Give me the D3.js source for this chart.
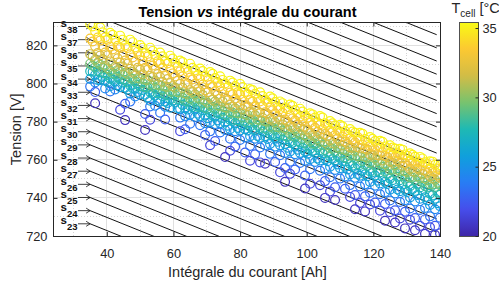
<!DOCTYPE html>
<html>
<head>
<meta charset="utf-8">
<script src="https://cdn.jsdelivr.net/npm/d3@7"></script>
<style>
html, body { margin: 0; padding: 0; background: #fff; }
#chart { width: 499px; height: 286px; }
text { font-family: "Liberation Sans", Arial, Helvetica, sans-serif; }
</style>
</head>
<body>
<div id="chart"></div>
<script>
// axis ticks
const xTicks = [40, 60, 80, 100, 120, 140];
const xMinor = [30, 50, 70, 90, 110, 130];
const yTicks = [720, 740, 760, 780, 800, 820];
const yMinor = [730, 750, 770, 790, 810, 830];
const cbTicks = [20, 25, 30, 35];

// reference lines s_k (voltage at 35 Ah and at 139 Ah)
const sLabels = [23, 24, 25, 26, 27, 28, 29, 30, 31, 32, 33, 34, 35, 36, 37, 38];
const lineAh = [35, 139];
const lineStartV = [726.4, 733.3, 740.2, 747.1, 754.0, 760.9, 767.8, 774.7, 781.6, 788.5, 795.4, 802.3, 809.2,
    816.1, 823.0, 829.9, 836.8, 843.7, 850.6, 857.5, 864.4, 871.3, 878.2, 885.1, 892.0, 898.9];
const lineEndV = [653.1, 660.0, 666.9, 673.8, 680.7, 687.6, 694.5, 701.4, 708.3, 715.2, 722.1, 729.0, 735.9,
    742.8, 749.7, 756.6, 763.5, 770.4, 777.3, 784.2, 791.1, 798.0, 804.9, 811.8, 818.7, 825.6];

// measurement columns (Ah)
const ahA = [35, 38, 41, 44, 47, 50, 53, 56, 59, 62, 65, 68, 71, 74, 77, 80, 83, 86, 89, 92, 95, 98, 101, 104,
    107, 110, 113, 116, 119, 122, 125, 128, 131, 134, 137, 140];
const ahB = [36.5, 39.5, 42.5, 45.5, 48.5, 51.5, 54.5, 57.5, 60.5, 63.5, 66.5, 69.5, 72.5, 75.5, 78.5, 81.5,
    84.5, 87.5, 90.5, 93.5, 96.5, 99.5, 102.5, 105.5, 108.5, 111.5, 114.5, 117.5, 120.5, 123.5, 126.5, 129.5,
    132.5, 135.5, 138.5];
const ahC = [35.75, 38.75, 41.75, 44.75, 47.75, 50.75, 53.75, 56.75, 59.75, 62.75, 65.75, 68.75, 71.75, 74.75,
    77.75, 80.75, 83.75, 86.75, 89.75, 92.75, 95.75, 98.75, 101.75, 104.75, 107.75, 110.75, 113.75, 116.75,
    119.75, 122.75, 125.75, 128.75, 131.75, 134.75, 137.75];
const ahD = [37.25, 40.25, 43.25, 46.25, 49.25, 52.25, 55.25, 58.25, 61.25, 64.25, 67.25, 70.25, 73.25, 76.25,
    79.25, 82.25, 85.25, 88.25, 91.25, 94.25, 97.25, 100.25, 103.25, 106.25, 109.25, 112.25, 115.25, 118.25,
    121.25, 124.25, 127.25, 130.25, 133.25, 136.25, 139.25];

// voltage per cell temperature (V)
const vT353 = [831.2, 829.5, 826.6, 825.1, 823.0, 820.2, 818.8, 816.3, 814.6, 812.1, 810.4, 807.9, 806.0, 803.8,
    801.5, 799.8, 797.1, 795.4, 793.2, 790.6, 789.0, 786.8, 784.4, 782.9, 780.3, 778.4, 776.1, 774.2, 771.9, 770.0,
    767.6, 765.8, 763.4, 761.5, 759.2, 757.1];
const vT349 = [829.9, 826.9, 825.6, 823.0, 821.7, 818.8, 817.1, 814.3, 813.1, 811.3, 808.3, 806.5, 805.1, 801.9,
    800.5, 798.1, 796.6, 793.4, 792.2, 789.7, 788.3, 785.3, 783.8, 782.2, 779.1, 777.6, 774.8, 773.6, 771.0, 769.4,
    766.4, 765.3, 762.6, 760.7, 759.0];
const vT345 = [827.3, 824.2, 823.1, 820.0, 818.9, 816.0, 814.9, 811.8, 810.9, 808.1, 806.9, 803.8, 802.9, 800.0,
    798.7, 795.6, 794.6, 791.5, 790.3, 787.2, 786.1, 783.2, 782.2, 779.1, 778.0, 775.0, 774.1, 770.9, 769.8, 767.0,
    765.9, 762.8, 761.6, 758.7, 757.4];
const vT340 = [824.1, 822.9, 819.8, 818.6, 816.7, 814.1, 811.7, 810.5, 808.8, 806.0, 804.3, 801.7, 800.6, 798.0,
    795.4, 794.3, 791.8, 790.3, 787.4, 786.5, 783.8, 782.0, 779.5, 778.3, 775.7, 773.3, 772.0, 769.1, 767.8, 766.0,
    763.4, 762.1, 759.0, 757.7, 755.4];
const vT335 = [823.6, 822.5, 819.4, 818.6, 815.3, 814.4, 811.2, 810.5, 807.3, 806.4, 803.1, 802.4, 799.2, 798.5,
    795.3, 794.4, 791.3, 790.6, 787.4, 786.5, 783.3, 782.6, 779.4, 778.5, 775.2, 774.4, 771.3, 770.5, 767.2, 766.6,
    763.4, 762.5, 759.3, 758.4, 755.5, 754.6];
const vT330 = [822.0, 819.4, 817.9, 815.1, 813.7, 812.0, 809.4, 808.3, 805.3, 803.8, 802.1, 799.4, 798.4, 795.8,
    794.3, 791.4, 790.5, 788.1, 785.9, 784.6, 781.7, 780.5, 778.2, 776.0, 774.8, 772.2, 770.5, 768.0, 766.9, 763.9,
    762.6, 760.8, 758.3, 757.0, 754.1];
const vT325 = [819.5, 816.2, 815.4, 812.1, 811.5, 808.2, 807.6, 804.3, 803.7, 800.4, 799.9, 796.5, 795.9, 792.6,
    792.0, 788.8, 788.2, 784.9, 784.3, 781.1, 780.6, 777.3, 776.8, 773.5, 772.9, 769.6, 769.0, 765.8, 765.2, 762.0,
    761.4, 758.1, 757.5, 754.3, 753.6];
const vT320 = [816.0, 814.8, 813.2, 810.5, 808.2, 807.2, 805.0, 802.4, 801.4, 799.8, 797.1, 795.4, 794.1, 791.2,
    789.9, 788.1, 785.3, 784.0, 782.5, 779.9, 778.6, 775.8, 774.7, 772.4, 771.1, 768.3, 766.7, 765.3, 762.4, 761.3,
    759.6, 756.8, 755.4, 753.2, 751.8];
const vT315 = [815.4, 814.7, 811.6, 811.0, 807.7, 807.2, 804.0, 803.4, 800.2, 799.8, 796.5, 795.9, 792.7, 792.1,
    788.9, 788.5, 785.2, 784.6, 781.4, 781.0, 777.7, 777.2, 774.0, 773.5, 770.2, 769.7, 766.5, 766.0, 762.8, 762.2,
    759.1, 758.4, 755.2, 754.6, 751.3, 750.6];
const vT310 = [814.2, 812.8, 810.0, 808.9, 806.1, 804.8, 803.4, 800.9, 798.6, 797.7, 795.5, 794.0, 791.4, 790.5,
    788.0, 786.5, 784.9, 782.0, 780.9, 778.5, 777.0, 775.6, 773.0, 771.7, 768.7, 767.5, 766.1, 763.6, 762.2, 759.6,
    758.4, 756.8, 753.8, 752.6, 750.3];
const vT305 = [812.5, 809.3, 808.8, 805.6, 805.0, 801.9, 801.4, 798.3, 797.8, 794.7, 794.2, 791.0, 790.5, 787.4,
    786.9, 783.8, 783.3, 780.2, 779.6, 776.4, 775.8, 772.7, 772.1, 768.9, 768.3, 765.1, 764.6, 761.4, 760.8, 757.7,
    757.1, 753.9, 753.3, 750.1, 749.5];
const vT300 = [810.9, 808.0, 807.0, 805.0, 802.8, 801.9, 799.4, 798.1, 795.4, 794.2, 792.5, 789.9, 788.6, 787.2,
    784.3, 783.4, 781.1, 780.0, 777.1, 775.7, 774.2, 771.6, 770.6, 767.7, 766.5, 764.5, 761.9, 761.0, 759.4, 756.7,
    754.7, 753.5, 751.2, 749.3, 748.0];
const vT295 = [810.4, 809.8, 806.7, 806.2, 803.0, 802.5, 799.4, 798.9, 795.8, 795.3, 792.2, 791.6, 788.5, 788.0,
    784.9, 784.4, 781.3, 780.6, 777.4, 776.8, 773.7, 773.1, 769.9, 769.3, 766.0, 765.5, 762.3, 761.7, 758.5, 757.9,
    754.8, 754.1, 750.9, 750.3, 747.2, 746.6];
const vT290 = [809.3, 808.1, 805.4, 804.7, 802.3, 800.1, 798.9, 796.8, 795.5, 792.5, 791.5, 789.8, 787.5, 785.4,
    784.6, 782.2, 780.7, 778.0, 776.8, 775.3, 772.6, 771.1, 768.6, 767.7, 765.6, 763.3, 762.2, 759.3, 757.9, 756.2,
    754.7, 751.7, 750.6, 748.4, 747.0];
const vT285 = [808.5, 805.4, 804.9, 801.8, 801.2, 798.1, 797.6, 794.5, 794.0, 790.9, 790.4, 787.2, 786.7, 783.6,
    783.1, 780.0, 779.5, 776.3, 775.7, 772.5, 772.0, 768.8, 768.2, 765.1, 764.4, 761.2, 760.7, 757.5, 756.9, 753.8,
    753.2, 750.0, 749.4, 746.2, 745.7];
const vT280 = [806.7, 804.5, 803.4, 800.6, 799.3, 797.8, 794.9, 793.8, 791.7, 790.4, 787.7, 786.6, 784.5, 783.3,
    780.6, 779.0, 777.8, 775.6, 772.9, 772.0, 769.7, 767.4, 766.5, 763.8, 762.1, 760.4, 757.7, 756.8, 754.2, 752.6,
    751.1, 748.1, 747.0, 745.5, 742.9];
const vT275 = [806.4, 805.8, 802.7, 802.2, 799.0, 798.5, 795.4, 794.9, 791.8, 791.3, 788.2, 787.6, 784.5, 784.0,
    780.9, 780.4, 777.3, 776.6, 773.4, 772.7, 769.5, 768.9, 765.6, 765.0, 761.7, 761.0, 757.8, 757.2, 753.9, 753.3,
    750.1, 749.3, 746.1, 745.5, 742.2, 741.6];
const vT270 = [806.1, 803.4, 802.0, 800.5, 797.6, 796.6, 794.5, 793.3, 791.0, 788.7, 787.6, 786.0, 783.1, 781.9,
    780.4, 778.0, 775.8, 774.8, 773.0, 770.5, 768.8, 766.2, 764.7, 763.4, 760.4, 759.2, 756.9, 754.3, 753.4, 750.8,
    749.3, 747.0, 744.6, 743.7, 741.3];
const vT265 = [804.5, 801.4, 800.9, 797.8, 797.2, 794.1, 793.6, 790.5, 790.0, 786.9, 786.4, 783.2, 782.7, 779.6,
    779.1, 776.0, 775.5, 772.3, 771.6, 768.3, 767.7, 764.4, 763.7, 760.4, 759.6, 756.4, 755.7, 752.4, 751.7, 748.4,
    747.7, 744.3, 743.6, 740.3, 739.6];
const vT260 = [801.9, 800.8, 799.1, 796.8, 795.6, 792.7, 791.3, 789.8, 787.0, 786.3, 784.1, 781.8, 780.6, 777.8,
    776.7, 775.3, 772.5, 770.9, 769.4, 766.3, 765.3, 763.1, 760.6, 759.2, 757.5, 754.9, 752.5, 751.4, 749.0, 747.3,
    744.4, 743.1, 741.5, 738.7, 737.2];
const vT255 = [802.4, 801.7, 798.6, 798.0, 794.7, 794.2, 791.0, 790.4, 787.3, 786.7, 783.6, 782.9, 779.7, 779.2,
    776.0, 775.4, 772.3, 771.6, 768.3, 767.6, 764.3, 763.6, 760.3, 759.6, 756.3, 755.6, 752.3, 751.6, 748.3, 747.6,
    744.3, 743.5, 740.2, 739.5, 736.3, 735.6];
const vT245 = [800.5, 797.4, 796.9, null, 793.2, null, 788.3, 787.8, null, 782.9, 782.4, 779.2, 778.7, 775.6,
    775.0, 771.7, 771.0, 767.6, 766.9, 763.6, 762.9, 759.5, 758.8, 755.4, 754.6, 751.2, 750.5, 747.1, 746.4, 743.0,
    742.3, 738.8, 738.1, 734.7, 734.0];
const vT235 = [798.4, null, 795.8, null, 790.5, null, 787.9, 784.7, null, 782.1, 778.9, 778.1, 774.9, 774.3,
    771.0, 770.4, 767.2, 766.4, 763.1, 762.4, 759.0, 758.3, 755.0, 754.2, 750.8, 750.1, 746.7, 746.0, 742.7, 741.9,
    738.6, 737.8, 734.4, 733.7, 730.3, 729.6];
const vT225 = [795.5, null, null, 789.4, null, 784.0, null, 781.1, null, 776.0, null, 773.0, 769.8, null,
    766.9, 763.8, 762.9, null, 758.8, 755.7, 754.9, 751.7, null, 748.8, 745.6, 744.8, 741.5, 740.8, 737.6, 736.8,
    733.5, 732.7, 729.4, 728.7, 725.4];
const vT215 = [null, null, null, 786.2, null, null, 781.0, null, null, 775.0, null, null, 767.6, null,
    764.7, null, 759.5, 758.6, null, 753.4, 752.6, null, 747.4, 746.6, 743.3, null, 740.5, 737.3, 736.5, 733.3,
    732.5, 729.2, 728.5, 725.3, 724.6, 721.4];
const vT206 = [789.6, null, null, 780.8, null, 775.6, null, null, null, null, null, null, null, 761.4,
    null, null, null, 757.9, null, 748.4, null, 744.9, null, 740.0, 738.9, null, 734.0, 732.9, null, 728.0,
    727.1, 724.0, 723.0, 721.2, 720.6];

// parula-like colour stops
const parula = ["#3e26a8", "#464eec", "#287df5", "#0fa0dc", "#1eb9b4", "#78c36e", "#d2bc46", "#fcc832", "#f9fa14"];

(() => {
    const W = 499, H = 286;
    const svg = d3.select("#chart").append("svg").attr("width", W).attr("height", H);

    const x = d3.scaleLinear().domain([24, 140]).range([53.5, 440]);
    const y = d3.scaleLinear().domain([720, 832]).range([236, 22.5]);
    const color = d3.scaleSequential(d3.piecewise(d3.interpolateRgb, parula)).domain([20, 35.4]);
    const ink = "#262626";

    const [x0, x1] = x.range();
    const [y0, y1] = y.range();

    svg.append("defs").append("clipPath").attr("id", "plotClip")
        .append("rect").attr("x", x0).attr("y", y1).attr("width", x1 - x0).attr("height", y0 - y1);

    // grid
    const grid = svg.append("g").attr("shape-rendering", "crispEdges");
    grid.append("g").selectAll("line").data(xMinor).join("line")
        .attr("x1", d => x(d)).attr("x2", d => x(d)).attr("y1", y1).attr("y2", y0)
        .attr("stroke", "#d4d4d4").attr("stroke-dasharray", "1,2");
    grid.append("g").selectAll("line").data(yMinor).join("line")
        .attr("y1", d => y(d)).attr("y2", d => y(d)).attr("x1", x0).attr("x2", x1)
        .attr("stroke", "#d4d4d4").attr("stroke-dasharray", "1,2");
    grid.append("g").selectAll("line").data(xTicks).join("line")
        .attr("x1", d => x(d)).attr("x2", d => x(d)).attr("y1", y1).attr("y2", y0)
        .attr("stroke", "#e0e0e0");
    grid.append("g").selectAll("line").data(yTicks).join("line")
        .attr("y1", d => y(d)).attr("y2", d => y(d)).attr("x1", x0).attr("x2", x1)
        .attr("stroke", "#e0e0e0");

    // s_k reference lines
    const lines = lineStartV.map((v, i) => ({ v0: v, v1: lineEndV[i] }));
    svg.append("g").attr("clip-path", "url(#plotClip)")
        .selectAll("line").data(lines).join("line")
        .attr("x1", x(lineAh[0])).attr("y1", d => y(d.v0))
        .attr("x2", x(lineAh[1])).attr("y2", d => y(d.v1))
        .attr("stroke", "#111").attr("stroke-width", 1);

    // labels with arrows
    const lab = svg.append("g");
    sLabels.forEach((k, i) => {
        const ay = y(lineStartV[i]);
        const ax = x(lineAh[0]);
        lab.append("line").attr("x1", 78).attr("x2", ax).attr("y1", ay).attr("y2", ay)
            .attr("stroke", "#111").attr("stroke-width", 0.8);
        lab.append("path")
            .attr("d", `M${ax - 4},${ay - 2.5}L${ax},${ay}L${ax - 4},${ay + 2.5}`)
            .attr("fill", "none").attr("stroke", "#111").attr("stroke-width", 0.8);
        const t = lab.append("text").attr("x", 60.5).attr("y", ay + 0.5)
            .attr("font-weight", "bold").attr("font-size", "11.5px").attr("fill", "#111");
        t.append("tspan").text("s");
        t.append("tspan").attr("dy", 6).attr("font-size", "9.5px").text(k);
    });

    // scatter
    const bands = [
        { t: 20.6, ah: ahB, v: vT206 }, { t: 21.5, ah: ahA, v: vT215 }, { t: 22.5, ah: ahB, v: vT225 },
        { t: 23.5, ah: ahA, v: vT235 }, { t: 24.5, ah: ahB, v: vT245 }, { t: 25.5, ah: ahA, v: vT255 },
        { t: 26.0, ah: ahD, v: vT260 }, { t: 26.5, ah: ahB, v: vT265 }, { t: 27.0, ah: ahC, v: vT270 },
        { t: 27.5, ah: ahA, v: vT275 }, { t: 28.0, ah: ahD, v: vT280 }, { t: 28.5, ah: ahB, v: vT285 },
        { t: 29.0, ah: ahC, v: vT290 }, { t: 29.5, ah: ahA, v: vT295 }, { t: 30.0, ah: ahD, v: vT300 },
        { t: 30.5, ah: ahB, v: vT305 }, { t: 31.0, ah: ahC, v: vT310 }, { t: 31.5, ah: ahA, v: vT315 },
        { t: 32.0, ah: ahD, v: vT320 }, { t: 32.5, ah: ahB, v: vT325 }, { t: 33.0, ah: ahC, v: vT330 },
        { t: 33.5, ah: ahA, v: vT335 }, { t: 34.0, ah: ahD, v: vT340 }, { t: 34.5, ah: ahB, v: vT345 },
        { t: 34.9, ah: ahC, v: vT349 }, { t: 35.3, ah: ahA, v: vT353 }
    ];
    const pts = [];
    bands.forEach(b => b.v.forEach((v, i) => {
        if (v != null) pts.push({ ah: b.ah[i], v, t: b.t });
    }));
    svg.append("g").attr("clip-path", "url(#plotClip)")
        .selectAll("circle").data(pts).join("circle")
        .attr("cx", d => x(d.ah)).attr("cy", d => y(d.v)).attr("r", 4.4)
        .attr("fill", "none").attr("stroke", d => color(d.t)).attr("stroke-width", 1.2);

    // axes
    const axStyle = g => {
        g.select(".domain").remove();
        g.selectAll("line").attr("stroke", ink);
        g.selectAll("text").attr("fill", ink).attr("font-size", "12.8px")
            .attr("font-family", "\"Liberation Sans\", Arial, sans-serif");
    };
    svg.append("g").attr("transform", `translate(0,${y0})`)
        .call(d3.axisBottom(x).tickValues(xTicks).tickSize(-4).tickPadding(12.5)).call(axStyle);
    svg.append("g").attr("transform", `translate(0,${y1})`)
        .call(d3.axisTop(x).tickValues(xTicks).tickSize(-4).tickFormat("")).call(axStyle);
    svg.append("g").attr("transform", `translate(${x0},0)`)
        .call(d3.axisLeft(y).tickValues(yTicks).tickSize(-4).tickPadding(6)).call(axStyle);
    svg.append("g").attr("transform", `translate(${x1},0)`)
        .call(d3.axisRight(y).tickValues(yTicks).tickSize(-4).tickFormat("")).call(axStyle);
    svg.append("rect").attr("x", x0).attr("y", y1).attr("width", x1 - x0).attr("height", y0 - y1)
        .attr("fill", "none").attr("stroke", ink).attr("stroke-width", 1).attr("shape-rendering", "crispEdges");

    // titles
    const title = svg.append("text").attr("x", 247.5).attr("y", 16.7).attr("text-anchor", "middle")
        .attr("font-weight", "bold").attr("font-size", "14.5px").attr("fill", "#000");
    title.append("tspan").text("Tension ");
    title.append("tspan").attr("font-style", "italic").text("vs");
    title.append("tspan").text(" intégrale du courant");

    svg.append("text").attr("x", 247.5).attr("y", 276.5).attr("text-anchor", "middle")
        .attr("font-size", "14.5px").attr("fill", ink).text("Intégrale du courant [Ah]");
    svg.append("text").attr("transform", `translate(20.5,${(y0 + y1) / 2}) rotate(-90)`)
        .attr("text-anchor", "middle").attr("font-size", "14.5px").attr("fill", ink).text("Tension [V]");

    // colorbar
    const cb = d3.scaleLinear().domain([20, 35.4]).range([236, 22.5]);
    const grad = svg.select("defs").append("linearGradient").attr("id", "cbGrad")
        .attr("x1", 0).attr("y1", 1).attr("x2", 0).attr("y2", 0);
    d3.range(0, 1.0001, 0.02).forEach(f => {
        grad.append("stop").attr("offset", f).attr("stop-color", color(20 + f * 15.4));
    });
    const cbx = 459.5, cbw = 19;
    svg.append("rect").attr("x", cbx).attr("y", 22.5).attr("width", cbw).attr("height", 213.5)
        .attr("fill", "url(#cbGrad)").attr("stroke", ink).attr("stroke-width", 0.8)
        .attr("shape-rendering", "crispEdges");
    svg.append("g").attr("transform", `translate(${cbx + cbw},0)`)
        .call(d3.axisRight(cb).tickValues(cbTicks).tickSize(-3).tickPadding(4)).call(axStyle);

    const cbl = svg.append("text").attr("x", 451.5).attr("y", 12.7).attr("font-size", "14.5px").attr("fill", ink);
    cbl.append("tspan").text("T");
    cbl.append("tspan").attr("dy", 4).attr("font-size", "10px").text("cell");
    cbl.append("tspan").attr("dy", -4).text(" [°C]");
})();
</script>
</body>
</html>
